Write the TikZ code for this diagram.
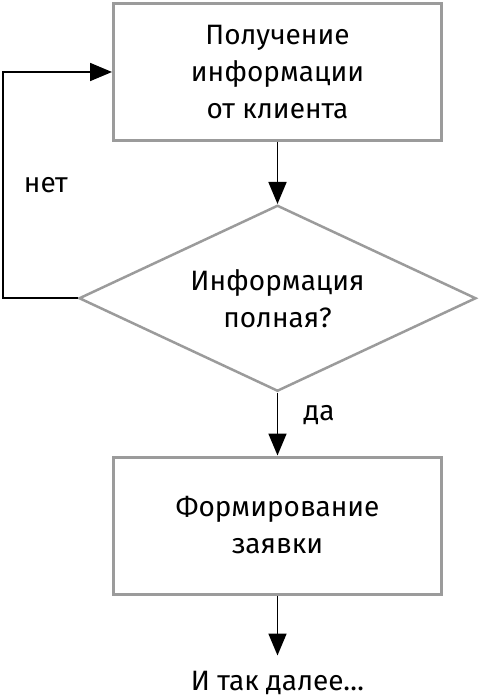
\documentclass[tikz,border=0pt]{standalone}
\usepackage{fontspec}
\setmainfont{Fira Sans}
\usetikzlibrary{positioning,shapes.geometric,arrows.meta}
\definecolor{framegray}{HTML}{9B9B9B}

\begin{document}
\begin{tikzpicture}
      [x=1pt,y=1pt,node distance=62pt,
      every node/.style={font=\fontsize{28}{37}\selectfont},
      box/.style={draw=framegray,line width=3pt,minimum width=328pt,minimum height=137pt,align=center},
      decision/.style={shape=diamond,draw=framegray,line width=2.5pt,minimum width=397pt,minimum height=186pt,aspect=2.13,align=center,inner sep=0pt},
      flow/.style={-{Triangle[length=22pt,width=18pt]},line width=1.8pt}]
\useasboundingbox (0,0) rectangle (480,-700);
\node[box] (info) at (277.5,-72) {Получение\\информации\\от клиента};
\node[decision,below=of info] (check) {Информация\\полная?};
\node[box,below=63pt of check] (order) {Формирование\\заявки};
\node[below=60pt of order,inner xsep=0pt,inner ysep=15pt] (next) {И так далее…};
\draw[flow] (info) -- (check);
\draw[flow] (check) -- node[pos=0.35,right=22pt]{да} (order);
\draw[flow] (order) -- (next);
\draw[flow] (check.west) -- ++(-75,0) |- node[pos=0.25,right=17pt]{нет} (info.west);
\end{tikzpicture}
\end{document}
